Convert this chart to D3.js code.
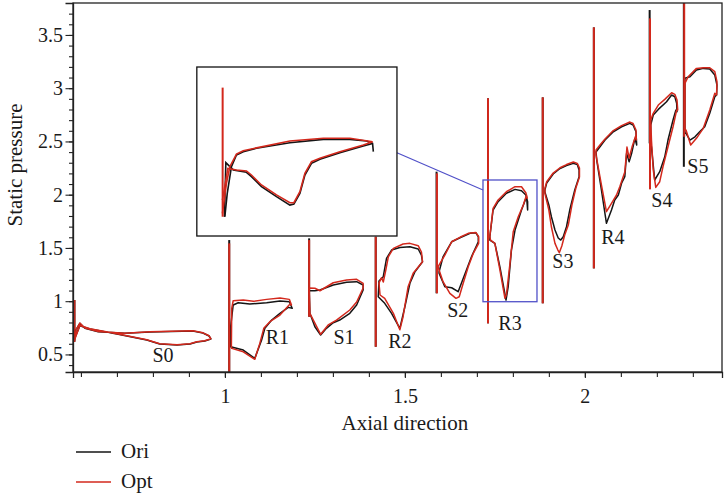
<!DOCTYPE html>
<html>
<head>
<meta charset="utf-8">
<script src="https://cdn.jsdelivr.net/npm/d3@7"></script>
<style>
  body { margin: 0; background: #fff; }
  svg { display: block; }
  text { font-family: "Liberation Serif", "Times New Roman", serif; fill: #1a1a1a; }
</style>
</head>
<body>
<div id="chart"></div>
<script>
// ---- data ----
var xMajor = [1, 1.5, 2];
var yMajor = [0.5, 1, 1.5, 2, 2.5, 3, 3.5];
var seriesNames = ["Ori", "Opt"];
var bladeNames = ["S0", "R1", "S1", "R2", "S2", "R3", "S3", "R4", "S4", "S5"];
var labelX = [0.828, 1.146, 1.331, 1.486, 1.647, 1.792, 1.939, 2.078, 2.214, 2.314];
var labelY = [0.429, 0.598, 0.598, 0.560, 0.851, 0.729, 1.308, 1.537, 1.885, 2.204];

// leading edge spikes: [axial, top, bottom]
var oriSpikes = [
  [0.582, 1.011, 0.619], [1.012, 1.574, 0.335], [1.234, 1.590, 0.854], [1.419, 1.605, 0.572],
  [1.588, 2.216, 1.074], [1.731, 2.905, 0.792], [1.883, 2.914, 0.980], [2.025, 3.571, 1.308],
  [2.180, 3.734, 2.482], [2.275, 3.800, 2.262]
];
var optSpikes = [
  [0.582, 1.011, 0.619], [1.012, 1.543, 0.335], [1.234, 1.574, 0.854], [1.419, 1.605, 0.572],
  [1.589, 2.200, 1.074], [1.731, 2.905, 0.792], [1.883, 2.914, 0.980], [2.025, 3.571, 1.308],
  [2.181, 3.656, 2.050], [2.276, 3.800, 2.544]
];

// blade pressure loops [axial, static pressure]
var oriProfiles = [
  [[0.581,0.635],[0.586,0.729],[0.597,0.792],[0.611,0.745],[0.648,0.713],[0.722,0.698],[0.792,0.710],[0.911,0.720],[0.939,0.701],[0.956,0.673],[0.961,0.645],[0.944,0.626],[0.922,0.617],[0.903,0.598],[0.867,0.588],[0.819,0.598],[0.783,0.635],[0.700,0.692],[0.625,0.739],[0.597,0.770]],
  [[1.016,0.760],[1.023,0.964],[1.037,0.985],[1.069,0.973],[1.116,0.985],[1.153,1.001],[1.179,0.995],[1.187,0.933],[1.176,0.942],[1.153,0.886],[1.130,0.823],[1.111,0.745],[1.102,0.635],[1.083,0.463],[1.051,0.541],[1.016,0.572]],
  [[1.234,1.098],[1.250,1.098],[1.264,1.105],[1.301,1.152],[1.338,1.177],[1.366,1.183],[1.384,1.152],[1.384,1.105],[1.366,0.964],[1.347,0.886],[1.319,0.823],[1.301,0.798],[1.282,0.745],[1.266,0.682],[1.250,0.760],[1.236,0.886]],
  [[1.426,1.042],[1.428,1.189],[1.440,1.230],[1.449,1.402],[1.463,1.480],[1.486,1.504],[1.514,1.511],[1.537,1.490],[1.546,1.433],[1.549,1.370],[1.528,1.277],[1.514,1.168],[1.500,0.948],[1.486,0.745],[1.463,0.886],[1.444,0.980]],
  [[1.595,1.277],[1.606,1.417],[1.630,1.558],[1.653,1.596],[1.681,1.637],[1.697,1.643],[1.704,1.605],[1.704,1.558],[1.685,1.417],[1.671,1.293],[1.657,1.168],[1.648,1.089],[1.630,1.126],[1.611,1.136],[1.595,1.262]],
  [[1.736,1.574],[1.736,1.605],[1.745,1.856],[1.759,1.934],[1.782,2.013],[1.806,2.050],[1.824,2.037],[1.836,1.997],[1.841,1.934],[1.841,1.856],[1.838,1.981],[1.824,1.856],[1.806,1.668],[1.796,1.480],[1.787,1.136],[1.781,1.011],[1.764,1.323],[1.750,1.543]],
  [[1.889,2.025],[1.889,2.044],[1.894,2.109],[1.912,2.194],[1.931,2.246],[1.949,2.274],[1.968,2.294],[1.979,2.283],[1.984,2.232],[1.984,2.169],[1.972,2.044],[1.958,1.856],[1.949,1.699],[1.940,1.605],[1.933,1.574],[1.926,1.593],[1.917,1.668],[1.907,1.793],[1.900,1.903]],
  [[2.033,2.325],[2.031,2.401],[2.042,2.450],[2.056,2.513],[2.079,2.591],[2.102,2.638],[2.125,2.670],[2.134,2.654],[2.142,2.591],[2.144,2.466],[2.139,2.529],[2.130,2.388],[2.123,2.309],[2.116,2.388],[2.111,2.169],[2.102,2.107],[2.093,1.997],[2.083,1.950],[2.074,1.856],[2.060,1.731],[2.046,2.044]],
  [[2.182,2.466],[2.183,2.654],[2.190,2.748],[2.204,2.801],[2.227,2.873],[2.241,2.936],[2.250,2.920],[2.255,2.858],[2.256,2.779],[2.253,2.795],[2.245,2.701],[2.231,2.513],[2.222,2.356],[2.208,2.216],[2.194,2.138],[2.185,2.450]],
  [[2.278,2.576],[2.278,3.093],[2.292,3.108],[2.310,3.171],[2.329,3.186],[2.347,3.180],[2.361,3.124],[2.367,3.030],[2.366,2.936],[2.361,2.920],[2.347,2.764],[2.333,2.638],[2.319,2.591],[2.306,2.544],[2.292,2.513],[2.281,2.576]]
];
var optProfiles = [
  [[0.581,0.625],[0.587,0.735],[0.597,0.795],[0.611,0.748],[0.648,0.716],[0.722,0.700],[0.792,0.712],[0.911,0.722],[0.939,0.703],[0.956,0.675],[0.961,0.648],[0.944,0.628],[0.922,0.619],[0.903,0.600],[0.867,0.590],[0.819,0.600],[0.783,0.637],[0.700,0.694],[0.625,0.741],[0.597,0.772]],
  [[1.018,0.580],[1.019,0.933],[1.023,1.004],[1.051,1.011],[1.079,0.999],[1.116,1.017],[1.153,1.030],[1.179,1.017],[1.185,0.964],[1.181,0.973],[1.153,0.870],[1.125,0.807],[1.108,0.745],[1.097,0.604],[1.083,0.454],[1.051,0.525],[1.019,0.557]],
  [[1.234,1.124],[1.250,1.121],[1.264,1.098],[1.301,1.173],[1.338,1.199],[1.366,1.205],[1.384,1.168],[1.384,1.124],[1.366,0.992],[1.347,0.917],[1.310,0.823],[1.287,0.777],[1.266,0.689],[1.236,0.886]],
  [[1.431,1.058],[1.428,1.170],[1.435,1.220],[1.440,1.180],[1.447,1.293],[1.454,1.417],[1.468,1.496],[1.495,1.537],[1.514,1.543],[1.537,1.521],[1.546,1.462],[1.549,1.370],[1.523,1.262],[1.509,1.136],[1.495,0.854],[1.486,0.731],[1.468,0.886],[1.444,1.027]],
  [[1.592,1.323],[1.611,1.433],[1.630,1.558],[1.653,1.600],[1.676,1.637],[1.697,1.646],[1.705,1.605],[1.705,1.543],[1.690,1.449],[1.676,1.323],[1.662,1.168],[1.651,1.042],[1.642,1.027],[1.625,1.074],[1.606,1.183]],
  [[1.738,1.574],[1.736,1.605],[1.745,1.872],[1.759,1.950],[1.782,2.028],[1.806,2.075],[1.824,2.075],[1.836,2.018],[1.840,1.966],[1.838,1.997],[1.829,1.903],[1.815,1.793],[1.801,1.652],[1.792,1.355],[1.782,1.058],[1.778,1.027],[1.764,1.293],[1.750,1.543]],
  [[1.889,2.013],[1.889,2.062],[1.894,2.122],[1.912,2.203],[1.931,2.253],[1.949,2.283],[1.968,2.307],[1.979,2.294],[1.985,2.250],[1.985,2.166],[1.975,2.062],[1.964,1.903],[1.954,1.715],[1.944,1.621],[1.936,1.518],[1.929,1.455],[1.925,1.480],[1.917,1.543],[1.907,1.699],[1.900,1.856]],
  [[2.031,2.372],[2.031,2.419],[2.042,2.466],[2.056,2.523],[2.079,2.602],[2.102,2.649],[2.125,2.682],[2.134,2.668],[2.142,2.607],[2.143,2.513],[2.142,2.560],[2.131,2.447],[2.123,2.344],[2.117,2.447],[2.111,2.212],[2.097,2.075],[2.088,1.997],[2.074,1.919],[2.060,1.840],[2.046,2.091]],
  [[2.185,2.513],[2.183,2.701],[2.190,2.764],[2.204,2.842],[2.222,2.895],[2.241,2.957],[2.250,2.942],[2.256,2.889],[2.258,2.795],[2.255,2.795],[2.245,2.638],[2.231,2.450],[2.217,2.262],[2.208,2.122],[2.197,2.069],[2.190,2.232]],
  [[2.278,2.607],[2.278,3.045],[2.287,3.108],[2.310,3.186],[2.329,3.192],[2.347,3.192],[2.361,3.155],[2.367,3.061],[2.366,2.936],[2.361,2.952],[2.347,2.795],[2.329,2.623],[2.310,2.529],[2.294,2.466],[2.281,2.607]]
];

// zoomed detail of R3 (normalised inset coordinates)
var insetOri = [
  [[0.140,0.114],[0.152,0.252],[0.173,0.410],[0.198,0.479],[0.232,0.499],[0.298,0.519],[0.465,0.552],[0.632,0.572],[0.765,0.572],[0.848,0.562],[0.878,0.548],[0.882,0.499]],
  [[0.138,0.114],[0.145,0.434],[0.182,0.391],[0.248,0.377],[0.273,0.351],[0.323,0.292],[0.398,0.233],[0.465,0.183],[0.485,0.189],[0.515,0.252],[0.540,0.361],[0.573,0.430],[0.615,0.454],[0.715,0.493],[0.832,0.532],[0.878,0.548]]
];
var insetOpt = [
  [[0.128,0.134],[0.148,0.312],[0.165,0.410],[0.198,0.485],[0.232,0.505],[0.465,0.562],[0.632,0.578],[0.765,0.578],[0.878,0.558]],
  [[0.128,0.213],[0.155,0.400],[0.198,0.391],[0.248,0.385],[0.273,0.361],[0.323,0.302],[0.398,0.243],[0.465,0.197],[0.485,0.197],[0.515,0.262],[0.540,0.371],[0.573,0.440],[0.615,0.460],[0.715,0.499],[0.832,0.538],[0.878,0.558]]
];
var insetSpike = [0.129, 0.878, 0.114];
var insetBox = [[0.922, 1.478], [1.612, 3.199]];   // axial range, pressure range
var zoomBox = [[1.717, 1.867], [0.995, 2.138]];
var connector = [[1.478, 2.394], [1.717, 2.044]];

// ---- chart ----
var width = 724, height = 498;
var margin = {top: 3, right: 2, bottom: 126, left: 73};
var black = "#151515", red = "#d3281c", blue = "#5050c8";

var x = d3.scaleLinear().domain([0.578, 2.381]).range([margin.left, width - margin.right]);
var y = d3.scaleLinear().domain([0.335, 3.8]).range([height - margin.bottom, margin.top]);

var svg = d3.select("#chart").append("svg")
    .attr("width", width)
    .attr("height", height);

svg.append("clipPath").attr("id", "plot-clip")
  .append("rect")
    .attr("x", x.range()[0]).attr("y", y.range()[1])
    .attr("width", x.range()[1] - x.range()[0])
    .attr("height", y.range()[0] - y.range()[1]);

var line = d3.line().x(function(d){ return x(d[0]); }).y(function(d){ return y(d[1]); })
    .curve(d3.curveLinearClosed);

var plot = svg.append("g").attr("clip-path", "url(#plot-clip)");

function drawSeries(profiles, spikes, color) {
  plot.append("g").selectAll("line").data(spikes).join("line")
      .attr("x1", function(d){ return x(d[0]); })
      .attr("x2", function(d){ return x(d[0]); })
      .attr("y1", function(d){ return y(d[1]); })
      .attr("y2", function(d){ return y(d[2]); })
      .attr("stroke", color).attr("stroke-width", 2);
  plot.append("g").selectAll("path").data(profiles).join("path")
      .attr("d", line)
      .attr("fill", "none")
      .attr("stroke", color)
      .attr("stroke-width", 1.5)
      .attr("stroke-linejoin", "round");
}
drawSeries(oriProfiles, oriSpikes, black);
drawSeries(optProfiles, optSpikes, red);

// blade labels
svg.append("g").selectAll("text").data(bladeNames).join("text")
    .attr("x", function(d, i){ return x(labelX[i]); })
    .attr("y", function(d, i){ return y(labelY[i]); })
    .attr("text-anchor", "middle")
    .style("font-size", "20px")
    .text(function(d){ return d; });

// zoom box and connector
svg.append("rect")
    .attr("x", x(zoomBox[0][0])).attr("y", y(zoomBox[1][1]))
    .attr("width", x(zoomBox[0][1]) - x(zoomBox[0][0]))
    .attr("height", y(zoomBox[1][0]) - y(zoomBox[1][1]))
    .attr("fill", "none").attr("stroke", blue).attr("stroke-width", 1.3);
svg.append("line")
    .attr("x1", x(connector[0][0])).attr("y1", y(connector[0][1]))
    .attr("x2", x(connector[1][0])).attr("y2", y(connector[1][1]))
    .attr("stroke", blue).attr("stroke-width", 1.2);

// inset
var ix0 = x(insetBox[0][0]), ix1 = x(insetBox[0][1]);
var iy0 = y(insetBox[1][0]), iy1 = y(insetBox[1][1]);
svg.append("rect")
    .attr("x", ix0).attr("y", iy1)
    .attr("width", ix1 - ix0).attr("height", iy0 - iy1)
    .attr("fill", "#fff").attr("stroke", "#111").attr("stroke-width", 1.3);
var ix = d3.scaleLinear().domain([0, 1]).range([ix0, ix1]);
var iy = d3.scaleLinear().domain([0, 1]).range([iy0, iy1]);
var iline = d3.line().x(function(d){ return ix(d[0]); }).y(function(d){ return iy(d[1]); });
var inset = svg.append("g");
inset.selectAll(".ori").data(insetOri).join("path")
    .attr("d", iline).attr("fill", "none").attr("stroke", black).attr("stroke-width", 1.6);
inset.append("line")
    .attr("x1", ix(insetSpike[0])).attr("x2", ix(insetSpike[0]))
    .attr("y1", iy(insetSpike[1])).attr("y2", iy(insetSpike[2]))
    .attr("stroke", red).attr("stroke-width", 2);
inset.selectAll(".opt").data(insetOpt).join("path")
    .attr("d", iline).attr("fill", "none").attr("stroke", red).attr("stroke-width", 1.6);

// axes
var axisColor = "#222";
var xMinor = d3.range(6, 24).map(function(d){ return d / 10; });
var yMinor = d3.range(4, 38).map(function(d){ return d / 10; });

var gxMinor = svg.append("g").attr("transform", "translate(0," + y.range()[0] + ")")
    .call(d3.axisBottom(x).tickValues(xMinor).tickSize(5).tickFormat(""));
var gx = svg.append("g").attr("transform", "translate(0," + y.range()[0] + ")")
    .call(d3.axisBottom(x).tickValues(xMajor).tickSize(6).tickPadding(11).tickFormat(d3.format("~g")));
var gyMinor = svg.append("g").attr("transform", "translate(" + x.range()[0] + ",0)")
    .call(d3.axisLeft(y).tickValues(yMinor).tickSize(4).tickFormat(""));
var gy = svg.append("g").attr("transform", "translate(" + x.range()[0] + ",0)")
    .call(d3.axisLeft(y).tickValues(yMajor).tickSize(7.5).tickPadding(2.5).tickFormat(d3.format("~g")));

[gxMinor, gyMinor].forEach(function(g){ g.select(".domain").remove(); });
[gxMinor, gx, gyMinor, gy].forEach(function(g){
  g.selectAll("line").attr("stroke", axisColor).attr("stroke-width", 1.1);
  g.selectAll(".domain").attr("stroke", axisColor).attr("stroke-width", 1.3);
  g.selectAll("text").style("font-size", "20px").attr("fill", "#1a1a1a")
    .style("font-family", "Liberation Serif, serif");
});

// frame
svg.append("rect")
    .attr("x", x.range()[0]).attr("y", y.range()[1])
    .attr("width", x.range()[1] - x.range()[0])
    .attr("height", y.range()[0] - y.range()[1])
    .attr("fill", "none").attr("stroke", axisColor).attr("stroke-width", 1.3);

// axis titles
svg.append("text")
    .attr("x", x(1.5)).attr("y", 430)
    .attr("text-anchor", "middle")
    .style("font-size", "21px")
    .text("Axial direction");
svg.append("text")
    .attr("transform", "translate(22,165) rotate(-90)")
    .attr("text-anchor", "middle")
    .style("font-size", "21px")
    .text("Static pressure");

// legend
var legend = svg.append("g").selectAll("g").data(seriesNames).join("g")
    .attr("transform", function(d, i){ return "translate(76," + (452 + i * 30) + ")"; });
legend.append("line")
    .attr("x1", 0).attr("x2", 35)
    .attr("stroke", function(d, i){ return i === 0 ? black : red; })
    .attr("stroke-width", 1.6);
legend.append("text")
    .attr("x", 45).attr("y", 6)
    .style("font-size", "21px")
    .text(function(d){ return d; });
</script>
</body>
</html>
